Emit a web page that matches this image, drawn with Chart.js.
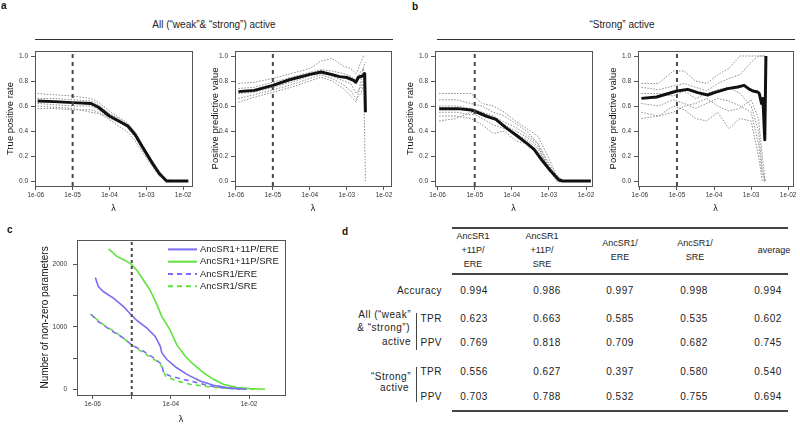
<!DOCTYPE html>
<html>
<head>
<meta charset="utf-8">
<script src="https://cdn.jsdelivr.net/npm/chart.js@4.4.1/dist/chart.umd.min.js"></script>
<style>
  body { margin: 0; width: 800px; height: 425px; position: relative; overflow: hidden; background: #fff;
         font-family: "Liberation Sans", Arial, Helvetica, sans-serif; color: #222; }
  canvas { position: absolute; }
  .txt { position: absolute; white-space: pre; line-height: 1; }
  .letter { font-weight: bold; font-size: 10px; color: #111; }
  .ptitle { font-size: 10px; color: #222; }
  .rule { position: absolute; background: #333; }
  .head { position: absolute; top: 228px; height: 46px; display: flex; align-items: center; justify-content: center;
          text-align: center; font-size: 9px; line-height: 13.7px; white-space: pre; transform: translateX(-50%); width: 70px; }
  .cell { font-size: 10px; letter-spacing: 0.5px; }
</style>
</head>
<body>
<div class="txt letter" style="left:1px;top:1px">a</div>
<div class="txt letter" style="left:412px;top:2px">b</div>
<div class="txt letter" style="left:7px;top:225px">c</div>
<div class="txt letter" style="left:342px;top:227px">d</div>

<div class="txt ptitle" style="left:214px;top:25px;transform:translate(-50%,-50%)">All (“weak”&amp; “strong”) active</div>
<div class="rule" style="left:35px;top:38.5px;width:358px;height:1.5px"></div>
<div class="txt ptitle" style="left:622px;top:25px;transform:translate(-50%,-50%)">“Strong” active</div>
<div class="rule" style="left:437px;top:38.5px;width:358px;height:1.5px"></div>

<canvas id="aTpr" width="200" height="171" style="left:0px;top:44px"></canvas>
<canvas id="aPpv" width="198" height="171" style="left:200px;top:44px"></canvas>
<canvas id="bTpr" width="200" height="171" style="left:400px;top:44px"></canvas>
<canvas id="bPpv" width="197" height="171" style="left:603px;top:44px"></canvas>
<canvas id="cParams" width="258" height="195" style="left:32px;top:230px"></canvas>

<div id="table"></div>

<script>
// ---- axis ticks ----
const lambdaTicks = [1e-6, 1e-5, 1e-4, 1e-3, 1e-2];
const lambdaTickLabels = ['1e-06', '1e-05', '1e-04', '1e-03', '1e-02'];
const lambdaTickLabelsC = ['1e-06', '', '1e-04', '', '1e-02'];
const rateTicks = [0, 0.2, 0.4, 0.6, 0.8, 1.0];
const rateTickLabels = ['0.0', '0.2', '0.4', '0.6', '0.8', '1.0'];
const paramTicks = [0, 500, 1000, 1500, 2000];
const paramTickLabels = ['0', '', '1000', '', '2000'];
const chosenLambda = 1e-5;

// ---- panel a: all ("weak" & "strong") active ----
const aTprLambda = [1.12e-6, 3.16e-6, 1e-5, 3.16e-5, 5.01e-5, 1e-4, 1.78e-4, 3.16e-4, 5.01e-4, 7.94e-4, 1.41e-3, 2.24e-3, 3.55e-3, 6.31e-3, 1.38e-2];
const aTprMean = [0.64, 0.635, 0.627, 0.62, 0.59, 0.52, 0.48, 0.44, 0.37, 0.27, 0.15, 0.06, 0.0, 0.0, 0.0];
const aTprReps = [
    [0.70, 0.69, 0.68, 0.66, 0.63, 0.56, 0.51, 0.46, 0.39, 0.29, 0.17, 0.08, 0.01, 0, 0],
    [0.66, 0.66, 0.65, 0.64, 0.61, 0.54, 0.50, 0.45, 0.38, 0.28, 0.16, 0.06, 0, 0, 0],
    [0.62, 0.61, 0.60, 0.60, 0.57, 0.50, 0.47, 0.43, 0.36, 0.26, 0.14, 0.05, 0, 0, 0],
    [0.58, 0.58, 0.57, 0.57, 0.55, 0.49, 0.44, 0.39, 0.32, 0.23, 0.12, 0.04, 0, 0, 0],
    [0.60, 0.59, 0.58, 0.55, 0.54, 0.51, 0.48, 0.42, 0.35, 0.25, 0.13, 0.05, 0, 0, 0]
];

const aPpvLambda = [1.17e-6, 3.16e-6, 1e-5, 2.82e-5, 1e-4, 2e-4, 3.55e-4, 6.31e-4, 1e-3, 1.51e-3, 1.74e-3, 2.04e-3, 2.63e-3, 3.02e-3, 3.16e-3];
const aPpvMean = [0.715, 0.725, 0.765, 0.81, 0.853, 0.872, 0.855, 0.835, 0.828, 0.805, 0.79, 0.83, 0.84, 0.86, 0.55];
const aPpvRepLambda = [1.17e-6, 3.16e-6, 1e-5, 3.16e-5, 1e-4, 2e-4, 3.98e-4, 7.94e-4, 1.26e-3, 1.78e-3, 2.4e-3, 2.82e-3, 3.16e-3];
const aPpvReps = [
    [0.78, 0.79, 0.82, 0.86, 0.90, 0.96, 0.98, 0.92, 0.90, 0.86, 0.95, 1.0, 1.0],
    [0.74, 0.75, 0.79, 0.83, 0.87, 0.89, 0.88, 0.86, 0.84, 0.80, 0.88, 0.90, 0.0],
    [0.70, 0.71, 0.75, 0.79, 0.84, 0.86, 0.84, 0.80, 0.78, 0.70, 0.75, 0.82, 0.85],
    [0.66, 0.69, 0.73, 0.77, 0.82, 0.85, 0.82, 0.77, 0.72, 0.66, 0.70, 0.78, 0.60],
    [0.63, 0.67, 0.71, 0.75, 0.80, 0.83, 0.80, 0.74, 0.68, 0.63, 0.80, 0.92, 0.95]
];

// ---- panel b: "strong" active ----
const bTprLambda = [1.1e-6, 3.47e-6, 7.94e-6, 9.77e-6, 2e-5, 3.72e-5, 6.92e-5, 1.29e-4, 2.4e-4, 3.98e-4, 6.76e-4, 1.12e-3, 1.86e-3, 2.29e-3, 1.35e-2];
const bTprMean = [0.579, 0.579, 0.568, 0.56, 0.52, 0.493, 0.427, 0.368, 0.307, 0.253, 0.16, 0.08, 0.008, 0, 0];
const bTprRepLambda = [1.1e-6, 3.16e-6, 7.94e-6, 1.58e-5, 3.16e-5, 6.31e-5, 1.26e-4, 2.51e-4, 5.01e-4, 1e-3, 1.58e-3, 2.51e-3, 1.26e-2];
const bTprReps = [
    [0.70, 0.70, 0.70, 0.62, 0.60, 0.55, 0.48, 0.42, 0.36, 0.18, 0.05, 0, 0],
    [0.65, 0.65, 0.62, 0.60, 0.55, 0.52, 0.46, 0.40, 0.30, 0.12, 0.02, 0, 0],
    [0.55, 0.55, 0.53, 0.55, 0.50, 0.45, 0.40, 0.35, 0.28, 0.10, 0.03, 0, 0],
    [0.52, 0.52, 0.50, 0.45, 0.38, 0.40, 0.32, 0.30, 0.22, 0.08, 0.02, 0, 0],
    [0.48, 0.50, 0.55, 0.50, 0.45, 0.42, 0.38, 0.33, 0.26, 0.10, 0.00, 0, 0],
    [0.60, 0.60, 0.58, 0.55, 0.52, 0.47, 0.43, 0.37, 0.30, 0.14, 0.04, 0, 0]
];

const bPpvLambda = [1.1e-6, 2.82e-6, 1e-5, 1.95e-5, 3.63e-5, 6.76e-5, 1.02e-4, 2.34e-4, 4.37e-4, 6.46e-4, 9.12e-4, 1.12e-3, 1.51e-3, 1.66e-3, 1.91e-3, 2.09e-3, 2.24e-3, 2.34e-3, 2.51e-3];
const bPpvMean = [0.661, 0.672, 0.72, 0.733, 0.707, 0.688, 0.707, 0.739, 0.752, 0.765, 0.733, 0.72, 0.712, 0.70, 0.62, 0.66, 0.45, 0.33, 1.0];
const bPpvRepLambda = [1.1e-6, 3.16e-6, 7.94e-6, 1.58e-5, 3.16e-5, 6.31e-5, 1.26e-4, 2.51e-4, 5.01e-4, 1e-3, 1.58e-3, 2e-3, 2.4e-3];
const bPpvReps = [
    [0.78, 0.78, 0.88, 0.88, 0.80, 0.78, 0.85, 0.90, 1.0, 1.0, 1.0, 1.0, 1.0],
    [0.75, 0.73, 0.76, 0.78, 0.75, 0.72, 0.78, 0.82, 0.85, 0.95, 1.0, 1.0, 1.0],
    [0.70, 0.70, 0.68, 0.72, 0.66, 0.70, 0.73, 0.75, 0.70, 0.60, 0.40, 0.10, 0.0],
    [0.62, 0.60, 0.65, 0.62, 0.58, 0.62, 0.66, 0.64, 0.60, 0.55, 0.30, 0.05, 0.0],
    [0.55, 0.52, 0.60, 0.57, 0.50, 0.48, 0.55, 0.42, 0.50, 0.48, 0.20, 0.0, 0.0],
    [0.50, 0.52, 0.55, 0.60, 0.62, 0.66, 0.60, 0.56, 0.58, 0.65, 0.50, 0.20, 0.0]
];

// ---- panel c: number of non-zero parameters ----
const ereFullLambda = [1.17e-6, 1.41e-6, 1.91e-6, 3.47e-6, 6.17e-6, 9.77e-6, 1.35e-5, 2.45e-5, 3.98e-5, 5.37e-5, 5.89e-5, 7.94e-5, 1.41e-4, 2.57e-4, 5.62e-4, 1.23e-3, 2.69e-3, 8.71e-3];
const ereFullCount = [1788, 1640, 1561, 1455, 1323, 1190, 1101, 979, 847, 688, 582, 476, 344, 238, 132, 63, 26, 0];
const sreFullLambda = [2.57e-6, 4.17e-6, 6.76e-6, 9.77e-6, 1.35e-5, 2e-5, 2.95e-5, 4.27e-5, 5.89e-5, 9.55e-5, 1.41e-4, 2.34e-4, 3.8e-4, 6.76e-4, 1.23e-3, 2.19e-3, 4.9e-3, 1.07e-2, 2.57e-2];
const sreFullCount = [2249, 2127, 2063, 2000, 1905, 1746, 1587, 1376, 1164, 952, 714, 529, 397, 265, 159, 79, 26, 11, 0];
const ereBaseLambda = [9.12e-7, 1.29e-6, 2.82e-6, 6.17e-6, 9.77e-6, 2e-5, 3.63e-5, 5.89e-5, 6.46e-5, 9.55e-5, 2.09e-4, 4.57e-4, 1e-3, 2.19e-3, 5.89e-3];
const ereBaseCount = [1201, 1101, 952, 820, 714, 608, 503, 397, 265, 212, 159, 106, 53, 21, 0];
const sreBaseLambda = [8.71e-7, 1.91e-6, 4.17e-6, 9.77e-6, 2e-5, 4.37e-5, 5.89e-5, 7.24e-5, 1.41e-4, 3.09e-4, 1e-3, 3.24e-3, 1.58e-2];
const sreBaseCount = [1201, 1032, 899, 714, 582, 450, 370, 212, 132, 79, 37, 11, 0];

// ---- panel d: table ----
const tableColumns = ['AncSR1\n+11P/\nERE', 'AncSR1\n+11P/\nSRE', 'AncSR1/\nERE', 'AncSR1/\nSRE', 'average'];
const accuracyRow = [0.994, 0.986, 0.997, 0.998, 0.994];
const allTprRow = [0.623, 0.663, 0.585, 0.535, 0.602];
const allPpvRow = [0.769, 0.818, 0.709, 0.682, 0.745];
const strongTprRow = [0.556, 0.627, 0.397, 0.580, 0.540];
const strongPpvRow = [0.703, 0.788, 0.532, 0.755, 0.694];

Chart.defaults.font.family = '"Liberation Sans", Arial, Helvetica, sans-serif';
Chart.defaults.color = '#333';
Chart.defaults.animation = false;

// R-style box round the plot region
const frameBox = {
    id: 'frameBox',
    afterDatasetsDraw(chart) {
        const { ctx, chartArea: a } = chart;
        ctx.save();
        ctx.strokeStyle = '#555';
        ctx.lineWidth = 1;
        ctx.strokeRect(Math.round(a.left) + 0.5, Math.round(a.top) + 0.5, Math.round(a.width), Math.round(a.height));
        ctx.restore();
    }
};

// legend drawn inside the plot (top right)
const insetLegend = {
    id: 'insetLegend',
    afterDraw(chart, args, o) {
        const { ctx, chartArea: a } = chart;
        const items = chart.data.datasets.filter(d => d.label);
        ctx.save();
        ctx.font = o.size + 'px ' + Chart.defaults.font.family;
        ctx.textBaseline = 'middle';
        items.forEach((d, i) => {
            const y = a.top + o.top + i * o.step;
            const x = a.right - o.right;
            ctx.strokeStyle = d.borderColor;
            ctx.lineWidth = 2;
            ctx.setLineDash(d.borderDash || []);
            ctx.beginPath();
            ctx.moveTo(x, y);
            ctx.lineTo(x + o.sample, y);
            ctx.stroke();
            ctx.setLineDash([]);
            ctx.fillStyle = '#222';
            ctx.fillText(d.label, x + o.sample + o.gap, y);
        });
        ctx.restore();
    }
};

function points(xs, ys) {
    return xs.map((x, i) => ({ x: x, y: ys[i] }));
}

function cutLine(yMin, yMax, dash) {
    return {
        data: [{ x: chosenLambda, y: yMin }, { x: chosenLambda, y: yMax }],
        borderColor: '#4a4a4a', borderWidth: 2, borderDash: dash, pointRadius: 0
    };
}

function xAxis(range, labels, h, titlePad) {
    return {
        type: 'logarithmic', min: range[0], max: range[1], bounds: 'data',
        afterBuildTicks: s => { s.ticks = lambdaTicks.map(v => ({ value: v })); },
        afterFit: s => { s.height = h; },
        ticks: { autoSkip: false, maxRotation: 0, padding: 1, font: { size: 6.5 }, callback: (v, i) => labels[i] },
        grid: { drawOnChartArea: false, tickLength: 4, color: '#555' },
        border: { display: false },
        title: { display: true, text: 'λ', color: '#111', font: { size: 9 }, padding: { top: 0, bottom: titlePad } }
    };
}

function yAxis(range, ticks, labels, w, title, size, titlePad, labelPad) {
    return {
        min: range[0], max: range[1], bounds: 'data',
        afterBuildTicks: s => { s.ticks = ticks.map(v => ({ value: v })); },
        afterFit: s => { s.width = w; },
        ticks: { autoSkip: false, padding: labelPad, font: { size: 6.5 }, callback: (v, i) => labels[i] },
        grid: { drawOnChartArea: false, tickLength: 4, color: '#555' },
        border: { display: false },
        title: { display: true, text: title, color: '#111', font: { size: size }, padding: { top: titlePad, bottom: 0 } }
    };
}

const rateRange = [-0.04, 1.04];

function rateChart(id, yTitle, xRange, lam, mean, repLam, reps, f) {
    const datasets = [
        cutLine(rateRange[0], rateRange[1], [4, 4]),
        { data: points(lam, mean), borderColor: '#111', borderWidth: 3, borderJoinStyle: 'round', pointRadius: 0 }
    ].concat(reps.map(r => ({
        data: points(repLam, r), borderColor: '#8c8c8c', borderWidth: 1, borderDash: [1.5, 1.5], pointRadius: 0
    })));

    return new Chart(document.getElementById(id), {
        type: 'line',
        data: { datasets: datasets },
        options: {
            responsive: false,
            layout: { padding: { top: f.top, right: f.right, left: 0, bottom: 0 } },
            plugins: { legend: { display: false }, tooltip: { enabled: false } },
            scales: {
                x: xAxis(xRange, lambdaTickLabels, f.h, f.xPad),
                y: yAxis(rateRange, rateTicks, rateTickLabels, f.w, yTitle, 9.5, f.yPad, 3)
            }
        },
        plugins: [frameBox]
    });
}

rateChart('aTpr', 'True positive rate', [9.5e-7, 1.74e-2], aTprLambda, aTprMean, aTprLambda, aTprReps,
    { w: 35, h: 29, top: 7, right: 8, xPad: 1.5, yPad: 4.3 });
rateChart('aPpv', 'Positive predictive value', [9.5e-7, 1.55e-2], aPpvLambda, aPpvMean, aPpvRepLambda, aPpvReps,
    { w: 35, h: 29, top: 7, right: 7, xPad: 1.5, yPad: 10 });
rateChart('bTpr', 'True positive rate', [8.5e-7, 1.45e-2], bTprLambda, bTprMean, bTprRepLambda, bTprReps,
    { w: 35, h: 29, top: 7, right: 8, xPad: 1.5, yPad: 4.3 });
rateChart('bPpv', 'Positive predictive value', [8.9e-7, 1.35e-2], bPpvLambda, bPpvMean, bPpvRepLambda, bPpvReps,
    { w: 35, h: 29, top: 7, right: 7, xPad: 1.5, yPad: 4.3 });

// panel c
const blue = '#7a6cf4';
const green = '#5fe23c';
new Chart(document.getElementById('cParams'), {
    type: 'line',
    data: {
        datasets: [
            cutLine(-92, 2392, [3, 3]),
            { label: 'AncSR1+11P/ERE', data: points(ereFullLambda, ereFullCount), borderColor: blue, borderWidth: 1.6, pointRadius: 0 },
            { label: 'AncSR1+11P/SRE', data: points(sreFullLambda, sreFullCount), borderColor: green, borderWidth: 1.6, pointRadius: 0 },
            { label: 'AncSR1/ERE', data: points(ereBaseLambda, ereBaseCount), borderColor: blue, borderWidth: 1.6, borderDash: [5, 4], pointRadius: 0 },
            { label: 'AncSR1/SRE', data: points(sreBaseLambda, sreBaseCount), borderColor: green, borderWidth: 1.6, borderDash: [5, 4], borderDashOffset: 4, pointRadius: 0 }
        ]
    },
    options: {
        responsive: false,
        layout: { padding: { top: 8, right: 5, left: 0, bottom: 0 } },
        plugins: {
            legend: { display: false },
            tooltip: { enabled: false },
            insetLegend: { top: 9.5, right: 117, step: 12.3, sample: 29, gap: 3, size: 9.5 }
        },
        scales: {
            x: xAxis([3.98e-7, 8.3e-2], lambdaTickLabelsC, 30, 0),
            y: yAxis([-92, 2392], paramTicks, paramTickLabels, 45, 'Number of non-zero parameters', 10, 7, 6)
        }
    },
    plugins: [frameBox, insetLegend]
});

// ---- table (panel d) ----
const table = document.getElementById('table');
function place(text, x, y, align, cls) {
    const el = document.createElement('div');
    el.className = 'txt ' + (cls || '');
    el.textContent = text;
    el.style.left = x + 'px';
    el.style.top = y + 'px';
    el.style.transform = align === 'right' ? 'translate(-100%,-50%)' : align === 'left' ? 'translate(0,-50%)' : 'translate(-50%,-50%)';
    table.appendChild(el);
}
function rule(x, y, w, h) {
    const el = document.createElement('div');
    el.className = 'rule';
    el.style.cssText = `left:${x}px;top:${y}px;width:${w}px;height:${h}px;background:#444`;
    table.appendChild(el);
}

const headCenters = [473, 542, 620, 695, 774];
const valueCenters = [474, 547, 620, 694, 768];
tableColumns.forEach((t, i) => {
    const el = document.createElement('div');
    el.className = 'head';
    el.textContent = t;
    el.style.left = headCenters[i] + 'px';
    table.appendChild(el);
});
rule(452, 226.5, 336, 2.3);
rule(452, 273.2, 336, 2.3);
rule(452, 409.5, 336, 2.8);

const bodyRows = [
    { label: 'Accuracy', y: 290.7, values: accuracyRow },
    { label: 'TPR', y: 319, values: allTprRow },
    { label: 'PPV', y: 343.3, values: allPpvRow },
    { label: 'TPR', y: 371.7, values: strongTprRow },
    { label: 'PPV', y: 396.7, values: strongPpvRow }
];
bodyRows.forEach(r => {
    place(r.label, 442, r.y, 'right', 'cell');
    r.values.forEach((v, i) => place(v.toFixed(3), valueCenters[i], r.y, 'center', 'cell'));
});

place('All (“weak”', 411, 315, 'right', 'cell');
place('& “strong”)', 410, 328.3, 'right', 'cell');
place('active', 411, 342.3, 'right', 'cell');
place('“Strong”', 411, 376.7, 'right', 'cell');
place('active', 409, 388.3, 'right', 'cell');
rule(415.5, 313, 1.3, 37);
rule(415.5, 366.7, 1.3, 35);
</script>
</body>
</html>
